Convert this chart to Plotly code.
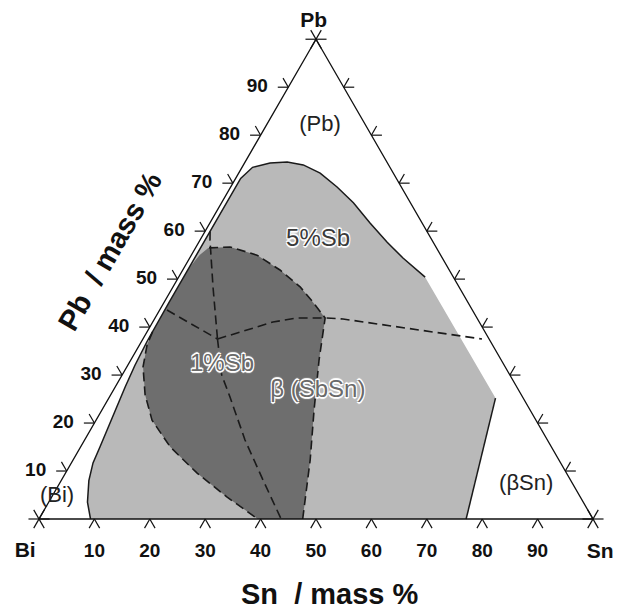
import numpy as np
import plotly.graph_objects as go

# ---------------- data (compositions in mass %: Sn, Pb ; Bi = 100 - Sn - Pb) -------------
tick_values = [10, 20, 30, 40, 50, 60, 70, 80, 90]
tick_labels = ["10", "20", "30", "40", "50", "60", "70", "80", "90"]

# 5%Sb region (light grey): solid outline on the left / top
light_outline_sn = [9.3, 7.0, 5.0, 3.9, 3.5, 2.9, 2.4, 1.8, 1.3, 1.0, 0.9, 0.9, 0.9,
                    1.9, 4.6, 7.6, 10.8, 14.7, 19.2, 23.8, 28.9, 34.0, 38.5, 44.5]
light_outline_pb = [0.0, 3.5, 8.0, 11.7, 15.0, 19.2, 23.3, 27.5, 32.0, 37.0, 45.0, 60.0, 71.0,
                    73.3, 74.2, 74.4, 73.8, 72.1, 69.2, 65.9, 61.7, 57.7, 54.4, 50.4]
# edge without line (constant Bi ~ 5 %) then solid line down to the Bi-Sn side
light_edge_sn = [44.5, 69.8]
light_edge_pb = [50.4, 25.2]
light_right_sn = [69.8, 73.5, 77.1]
light_right_pb = [25.2, 12.3, 0.0]

# 1%Sb region (dark grey)
dark_sn = [2.3, 1.5, 1.0, 1.0, 1.0, 1.36, 2.93, 6.2, 10.1, 16.2, 23.7, 31.6, 39.5,
           47.6, 42.8, 38.3, 34.0, 30.7, 26.85, 22.93, 17.55, 11.84, 6.13, 2.3]
dark_pb = [56.5, 55.0, 52.5, 45.0, 39.0, 36.3, 31.7, 25.9, 20.6, 15.0, 9.6, 4.6, 0.0,
           0.0, 12.3, 22.7, 33.1, 41.9, 45.2, 48.4, 51.9, 55.0, 56.7, 56.5]
dark_left_sn = [1.0, 1.36, 2.93, 6.2, 10.1, 16.2, 23.7, 31.6, 39.5]
dark_left_pb = [39.0, 36.3, 31.7, 25.9, 20.6, 15.0, 9.6, 4.6, 0.0]
dark_right_sn = [47.6, 42.8, 38.3, 34.0, 30.7, 26.85, 22.93, 17.55, 11.84, 6.13, 2.3]
dark_right_pb = [0.0, 12.3, 22.7, 33.1, 41.9, 45.2, 48.4, 51.9, 55.0, 56.7, 56.5]

# dashed phase boundaries meeting at the ternary point
dash_up_sn = [0.93, 1.79, 7.23, 13.46]
dash_up_pb = [59.9, 58.15, 48.36, 37.52]
dash_left_sn = [1.32, 6.83, 13.46]
dash_left_pb = [43.56, 40.85, 37.52]
dash_right_sn = [13.46, 17.85, 21.71, 25.62, 30.67, 34.03, 41.87, 51.63, 61.2]
dash_right_pb = [37.52, 39.39, 41.06, 41.9, 41.9, 41.69, 40.44, 38.98, 37.52]
dash_down_sn = [13.46, 17.98, 21.76, 28.95, 36.37, 43.7]
dash_down_pb = [37.52, 30.0, 25.43, 16.47, 8.13, 0.0]

# region labels (Sn, Pb)
region_text = ["(Pb)", "(Bi)", "(βSn)"]
region_sn = [9.67, 0.96, 84.4]
region_pb = [82.1, 4.59, 7.09]
halo_text = ["5%Sb", "1%Sb", "β (SbSn)"]
halo_sn = [21.3, 16.98, 37.0]
halo_pb = [58.15, 32.1, 26.68]
halo_color = ["#3a3a3a", "#6a6a6a", "#6a6a6a"]

corner_text = ["Bi", "Sn", "Pb"]

# ---------------- helpers -------------
S3 = np.sqrt(3) / 2


def tern(sn, pb):
    sn = np.asarray(sn, float)
    pb = np.asarray(pb, float)
    return sn + pb / 2, pb * S3


FONT = "Liberation Sans, Arial, Helvetica, sans-serif"
fig = go.Figure()

# fills
x, y = tern(light_outline_sn + light_edge_sn[1:] + light_right_sn[1:],
            light_outline_pb + light_edge_pb[1:] + light_right_pb[1:])
fig.add_trace(go.Scatter(x=x, y=y, mode="lines", fill="toself", fillcolor="#b9b9b9",
                         line=dict(width=0, color="rgba(0,0,0,0)"), hoverinfo="skip"))
x, y = tern(dark_sn, dark_pb)
fig.add_trace(go.Scatter(x=x, y=y, mode="lines", fill="toself", fillcolor="#6e6e6e",
                         line=dict(width=0, color="rgba(0,0,0,0)"), hoverinfo="skip"))

# dashed lines
DASH = "9px,5px"
for sn, pb in [(dash_up_sn, dash_up_pb), (dash_left_sn, dash_left_pb),
               (dash_right_sn, dash_right_pb), (dash_down_sn, dash_down_pb),
               (dark_left_sn, dark_left_pb), (dark_right_sn, dark_right_pb)]:
    x, y = tern(sn, pb)
    fig.add_trace(go.Scatter(x=x, y=y, mode="lines", line=dict(color="#1a1a1a", width=1.6, dash=DASH),
                             hoverinfo="skip"))

# solid outlines of 5%Sb region
for sn, pb in [(light_outline_sn, light_outline_pb), (light_right_sn, light_right_pb)]:
    x, y = tern(sn, pb)
    fig.add_trace(go.Scatter(x=x, y=y, mode="lines", line=dict(color="#1a1a1a", width=1.5),
                             hoverinfo="skip"))

# triangle
x, y = tern([0, 100, 0, 0], [0, 0, 100, 0])
fig.add_trace(go.Scatter(x=x, y=y, mode="lines", line=dict(color="#111", width=1.3), hoverinfo="skip",
                         cliponaxis=False))

# tick marks
L = 1.9
tx, ty = [], []
dirs = {
    "bottom": [(-0.5, -S3), (0.5, -S3)],
    "left": [(-1.0, 0.0), (-0.5, S3)],
    "right": [(1.0, 0.0), (0.5, S3)],
}
for v in tick_values:
    for side, (sn, pb) in [("bottom", (v, 0)), ("left", (0, v)), ("right", (100 - v, v))]:
        px, py = tern(sn, pb)
        for dx, dy in dirs[side]:
            tx += [float(px), float(px + L * dx), None]
            ty += [float(py), float(py + L * dy), None]
for sn, pb in [(0, 0), (100, 0), (0, 100)]:
    px, py = tern(sn, pb)
    for ang in (0, 60, 120):
        dx, dy = np.cos(np.radians(ang)), np.sin(np.radians(ang))
        tx += [float(px - L * dx), float(px + L * dx), None]
        ty += [float(py - L * dy), float(py + L * dy), None]
fig.add_trace(go.Scatter(x=tx, y=ty, mode="lines", line=dict(color="#111", width=1.2), hoverinfo="skip",
                         cliponaxis=False))

# tick labels
bx, by = tern(tick_values, [0] * 9)
fig.add_trace(go.Scatter(x=bx, y=by - 6.0, mode="text", text=tick_labels, cliponaxis=False,
                         textfont=dict(family=FONT, size=19, color="#111", weight="bold"), hoverinfo="skip"))
lx, ly = tern([0] * 9, tick_values)
fig.add_trace(go.Scatter(x=lx - 5.6, y=ly, mode="text", text=tick_labels, cliponaxis=False,
                         textfont=dict(family=FONT, size=19, color="#111", weight="bold"), hoverinfo="skip"))

# region labels
rx, ry = tern(region_sn, region_pb)
fig.add_trace(go.Scatter(x=rx, y=ry, mode="text", text=region_text, cliponaxis=False,
                         textfont=dict(family=FONT, size=22, color="#222"), hoverinfo="skip"))
hx, hy = tern(halo_sn, halo_pb)
halo = "1px 1px 0 #fff, -1px -1px 0 #fff, 1px -1px 0 #fff, -1px 1px 0 #fff, 0 2px 1px #fff, 0 -2px 1px #fff"
fig.add_trace(go.Scatter(x=hx, y=hy, mode="text", text=halo_text, cliponaxis=False,
                         textfont=dict(family=FONT, size=24, color=halo_color, shadow=halo),
                         hoverinfo="skip"))

# corner labels
cx, cy = tern([0, 100, 0], [0, 0, 100])
cx = cx + np.array([-2.5, 1.3, -0.4])
cy = cy + np.array([-6.0, -6.1, 3.2])
fig.add_trace(go.Scatter(x=cx, y=cy, mode="text", text=corner_text, cliponaxis=False,
                         textfont=dict(family=FONT, size=21, color="#111", weight="bold"), hoverinfo="skip"))

# axis titles
fig.add_annotation(x=52.5, y=-13.5, xref="x", yref="y", text="Sn  / mass %", showarrow=False,
                   font=dict(family=FONT, size=29, color="#111", weight="bold"))
fig.add_annotation(x=12.8, y=48.4, xref="x", yref="y", text="Pb  / mass %", showarrow=False,
                   textangle=-60, font=dict(family=FONT, size=29, color="#111", weight="bold"))

# the page adds an 8 px body margin, so the figure is 8 px smaller and the ranges start 8 px in
SCALE = 5.54
fig.update_layout(
    width=614, height=603, autosize=False,
    margin=dict(l=0, r=0, t=0, b=0),
    paper_bgcolor="white", plot_bgcolor="white",
    showlegend=False,
    xaxis=dict(range=[(8 - 39) / SCALE, (622 - 39) / SCALE], visible=False, fixedrange=True),
    yaxis=dict(range=[(519 - 611) / SCALE, (519 - 8) / SCALE], visible=False, fixedrange=True),
)
fig.write_html("out.html")
